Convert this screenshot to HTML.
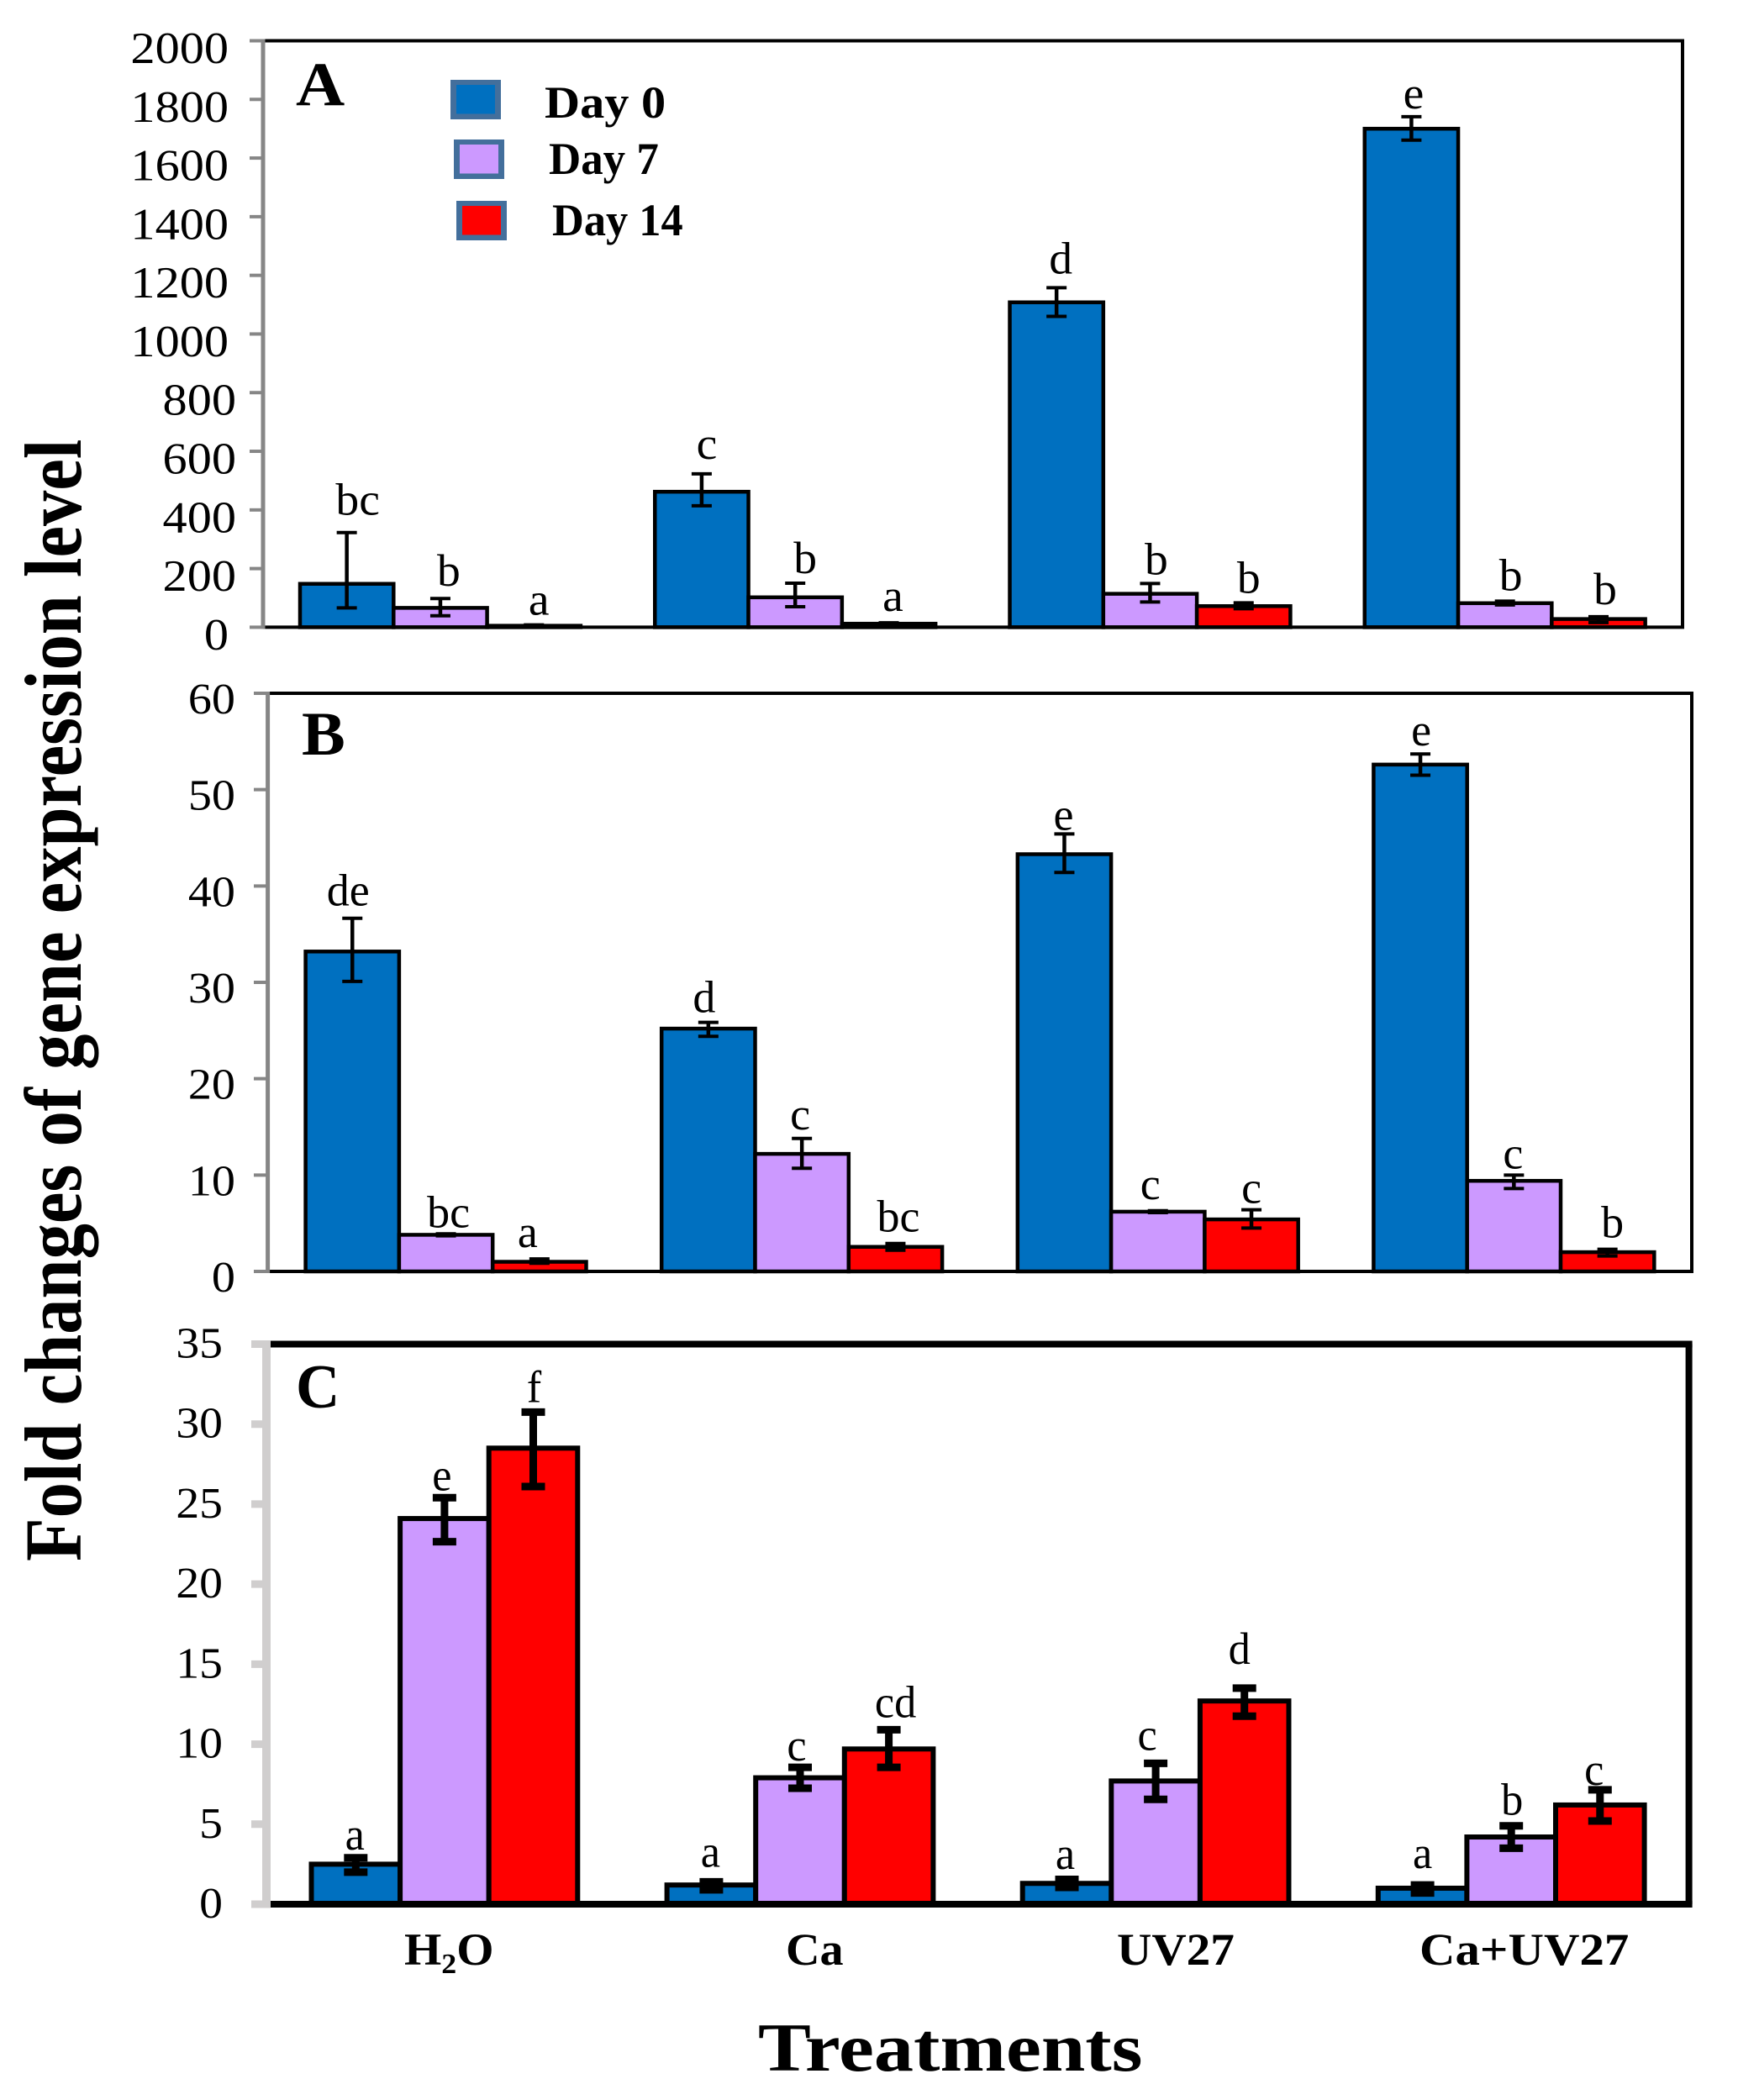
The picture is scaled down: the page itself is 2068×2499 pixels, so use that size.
<!DOCTYPE html>
<html lang="en">
<head>
<meta charset="utf-8">
<title>Fold changes of gene expression level</title>
<style>
html,body{margin:0;padding:0;background:#fff;}
svg{display:block;}
text{font-family:"Liberation Serif",serif;fill:#000;}
</style>
</head>
<body>
<svg id="chart" xmlns="http://www.w3.org/2000/svg" width="2068" height="2499" viewBox="0 0 2068 2499">
<rect x="0" y="0" width="2068" height="2499" fill="#fff"/>
</svg>
<script>
/* ---------- data ---------- */
const categories = ['H2O', 'Ca', 'UV27', 'Ca+UV27'];
const seriesNames = ['Day 0', 'Day 7', 'Day 14'];

const ticksA = [0, 200, 400, 600, 800, 1000, 1200, 1400, 1600, 1800, 2000];
const aDay0 = [148, 462, 1108, 1700];
const aDay7 = [66, 102, 114, 82];
const aDay14 = [5, 12, 72, 28];
const aDay0Hi = [323, 523, 1158, 1741];
const aDay0Lo = [66, 414, 1060, 1661];
const aDay7Hi = [98, 150, 149, 89];
const aDay7Lo = [39, 70, 86, 76];
const aDay14Hi = [8, 15, 83, 36];
const aDay14Lo = [3, 9, 63, 16];
const aLetters0 = ['bc', 'c', 'd', 'e'];
const aLetters7 = ['b', 'b', 'b', 'b'];
const aLetters14 = ['a', 'a', 'b', 'b'];

const ticksB = [0, 10, 20, 30, 40, 50, 60];
const bDay0 = [33.2, 25.2, 43.3, 52.6];
const bDay7 = [3.8, 12.2, 6.2, 9.4];
const bDay14 = [1.0, 2.55, 5.4, 2.0];
const bDay0Hi = [36.65, 25.85, 45.4, 53.7];
const bDay0Lo = [30.1, 24.4, 41.4, 51.5];
const bDay7Hi = [3.9, 13.8, 6.3, 10];
const bDay7Lo = [3.7, 10.7, 6.1, 8.6];
const bDay14Hi = [1.3, 2.9, 6.4, 2.3];
const bDay14Lo = [0.85, 2.2, 4.5, 1.6];
const bLetters0 = ['de', 'd', 'e', 'e'];
const bLetters7 = ['bc', 'c', 'c', 'c'];
const bLetters14 = ['a', 'bc', 'c', 'b'];

const ticksC = [0, 5, 10, 15, 20, 25, 30, 35];
const cDay0 = [2.5, 1.2, 1.3, 1.0];
const cDay7 = [24.1, 7.9, 7.7, 4.2];
const cDay14 = [28.5, 9.7, 12.7, 6.2];
const cDay0Hi = [2.9, 1.4, 1.55, 1.2];
const cDay0Lo = [2.0, 0.9, 1.05, 0.7];
const cDay7Hi = [25.4, 8.55, 8.8, 4.9];
const cDay7Lo = [22.65, 7.25, 6.55, 3.5];
const cDay14Hi = [30.75, 10.9, 13.5, 7.15];
const cDay14Lo = [26.1, 8.55, 11.75, 5.2];
const cLetters0 = ['a', 'a', 'a', 'a'];
const cLetters7 = ['e', 'c', 'c', 'b'];
const cLetters14 = ['f', 'cd', 'd', 'c'];

/* ---------- layout (not data): letter nudge relative to its error bar ---------- */
const panels = [
  {id:'a', letter:'A', letterX:352, letterY:125, letterSize:74, letterSx:1.09, max:2000, ticks:ticksA,
   left:313, right:2002, top:48.5, base:746.4, catW:422.25, off:44, barW:111.3,
   values:[aDay0,aDay7,aDay14], hi:[aDay0Hi,aDay7Hi,aDay14Hi], lo:[aDay0Lo,aDay7Lo,aDay14Lo],
   letters:[aLetters0,aLetters7,aLetters14],
   nudge:[[[13,21],[6,18],[5,17],[2.5,10]],[[10,15],[12,12],[7.5,11],[7,13]],[[6,12],[5,14],[6,12],[8,15]]],
   axisColor:'#868686', axisW:5, tickL:297, tickW:4, frameW:4, barSW:4.5, errW:4.5, capW:24, capH:4,
   tickRight:function(s){return s.length===3?281:272;}, tickDy:26.5, tickSize:53, tickSx:1.1, letSize:54, letSx:1.03},
  {id:'b', letter:'B', letterX:359, letterY:898, letterSize:74, letterSx:1.05, max:60, ticks:ticksB,
   left:318.6, right:2013, top:825, base:1513, catW:423.6, off:45, barW:111.3,
   values:[bDay0,bDay7,bDay14], hi:[bDay0Hi,bDay7Hi,bDay14Hi], lo:[bDay0Lo,bDay7Lo,bDay14Lo],
   letters:[bLetters0,bLetters7,bLetters14],
   nudge:[[[-5,15],[-5,12],[-1,5],[1,10]],[[3,8],[-2,11],[-9,14],[-1,8]],[[-14,14],[3.5,14],[0,8],[6,14]]],
   axisColor:'#868686', axisW:5, tickL:302, tickW:4, frameW:4, barSW:4.5, errW:4.5, capW:24, capH:4,
   tickRight:function(s){return 280;}, tickDy:24, tickSize:52, tickSx:1.08, letSize:54, letSx:1.0},
  {id:'c', letter:'C', letterX:352, letterY:1675, letterSize:74, letterSx:0.98, max:35, ticks:ticksC,
   left:317, right:2009.6, top:1599.5, base:2266, catW:423.1, off:53.5, barW:105.6,
   values:[cDay0,cDay7,cDay14], hi:[cDay0Hi,cDay7Hi,cDay14Hi], lo:[cDay0Lo,cDay7Lo,cDay14Lo],
   letters:[cLetters0,cLetters7,cLetters14],
   nudge:[[[-1,10],[-1,18],[-2,12.6],[0,20]],[[-3,9],[-4,8],[-10,16],[1,13]],[[1,12],[8,15],[-6,29],[-7,6]]],
   axisColor:'#d0cece', axisW:10, tickL:299, tickW:9, frameW:8, barSW:6, errW:9, capW:28, capH:9,
   tickRight:function(s){return 265;}, tickDy:16, tickSize:52, tickSx:1.07, letSize:54, letSx:0.97}
];
const fills = ['#0070c0', '#cc99ff', '#ff0000'];

const svg = document.getElementById('chart');
const NS = 'http://www.w3.org/2000/svg';

function shape(tag, attrs, name) {
  const el = document.createElementNS(NS, tag);
  for (const k in attrs) el.setAttribute(k, attrs[k]);
  
  
  svg.appendChild(el);
  return el;
}
function label(str, x, y, size, sx, anchor, bold, name) {
  const el = document.createElementNS(NS, 'text');
  el.setAttribute('transform', 'translate(' + x + ',' + y + ') scale(' + sx + ',1)');
  el.setAttribute('font-size', size);
  el.setAttribute('text-anchor', anchor);
  if (bold) el.setAttribute('font-weight', 'bold');
  el.textContent = str;
  
  
  svg.appendChild(el);
  return el;
}

panels.forEach(function (p) {
  const y = function (v) { return p.base - v / p.max * (p.base - p.top); };
  const barX = function (g, s) { return p.left + p.off + g * p.catW + s * p.barW; };

  /* bars, drawn group by group */
  categories.forEach(function (cat, g) {
    p.values.forEach(function (vals, s) {
      shape('rect', {x: barX(g, s), y: y(vals[g]), width: p.barW, height: p.base - y(vals[g]),
        fill: fills[s], stroke: '#000', 'stroke-width': p.barSW},
        'bar-' + p.id + '-' + cat.toLowerCase() + '-day' + [0, 7, 14][s]);
    });
  });

  /* frame */
  shape('line', {x1: p.left, x2: p.right + p.frameW / 2, y1: p.top, y2: p.top, stroke: '#000', 'stroke-width': p.frameW}, 'frame-top-' + p.id);
  shape('line', {x1: p.right, x2: p.right, y1: p.top, y2: p.base, stroke: '#000', 'stroke-width': p.frameW}, 'frame-right-' + p.id);
  shape('line', {x1: p.left, x2: p.right + p.frameW / 2, y1: p.base, y2: p.base, stroke: '#000', 'stroke-width': p.frameW}, 'x-axis-' + p.id);

  /* y axis and ticks */
  shape('line', {x1: p.left, x2: p.left, y1: p.top - p.tickW / 2, y2: p.base + p.tickW / 2, stroke: p.axisColor, 'stroke-width': p.axisW}, 'y-axis-' + p.id);
  p.ticks.forEach(function (t) {
    shape('line', {x1: p.tickL, x2: p.left, y1: y(t), y2: y(t), stroke: p.axisColor, 'stroke-width': p.tickW}, 'y-tick-' + p.id + '-' + t);
    const s = String(t);
    label(s, p.tickRight(s), y(t) + p.tickDy, p.tickSize, p.tickSx, 'end', false, 'y-tick-label-' + p.id + '-' + t);
  });

  /* error bars and significance letters */
  p.values.forEach(function (vals, s) {
    vals.forEach(function (v, g) {
      const cx = barX(g, s) + p.barW / 2;
      const hi = y(p.hi[s][g]);
      const lo = y(p.lo[s][g]);
      shape('line', {x1: cx, x2: cx, y1: hi, y2: lo, stroke: '#000', 'stroke-width': p.errW}, 'error-bar-' + p.id);
      shape('line', {x1: cx - p.capW / 2, x2: cx + p.capW / 2, y1: hi, y2: hi, stroke: '#000', 'stroke-width': p.capH}, 'error-cap-high-' + p.id);
      shape('line', {x1: cx - p.capW / 2, x2: cx + p.capW / 2, y1: lo, y2: lo, stroke: '#000', 'stroke-width': p.capH}, 'error-cap-low-' + p.id);
      const n = p.nudge[s][g];
      label(p.letters[s][g], cx + n[0], hi - n[1], p.letSize, p.letSx, 'middle', false, 'significance-letter-' + p.id);
    });
  });

  label(p.letter, p.letterX, p.letterY, p.letterSize, p.letterSx, 'start', true, 'panel-label-' + p.id);
});

/* legend */
const legendBoxes = [[536, 95], [540, 166], [543, 239]];
const legendText = [[648, 140, 1.08], [653, 207, 0.98], [657, 280, 0.97]];
seriesNames.forEach(function (nm, i) {
  const b = legendBoxes[i];
  shape('rect', {x: b[0], y: b[1], width: 60, height: 47, fill: '#436f9c'}, 'legend-swatch-border-' + i);
  shape('rect', {x: b[0] + 7, y: b[1] + 6, width: 46, height: 34.5, fill: fills[i]}, 'legend-swatch-' + i);
  const t = legendText[i];
  label(nm, t[0], t[1], 54, t[2], 'start', true, 'legend-entry-' + i);
});

/* category labels */
const catStyle = [[481, 1.055], [935, 1.04], [1329, 1.06], [1689, 1.09]];
categories.forEach(function (c, i) {
  const el = label('', catStyle[i][0], 2338, 54, catStyle[i][1], 'start', true, 'category-label-' + i);
  if (c === 'H2O') {
    const a = document.createElementNS(NS, 'tspan');
    a.textContent = 'H';
    el.appendChild(a);
    const sub = document.createElementNS(NS, 'tspan');
    sub.setAttribute('font-size', '34');
    sub.setAttribute('dy', '10');
    sub.textContent = '2';
    el.appendChild(sub);
    const o = document.createElementNS(NS, 'tspan');
    o.setAttribute('dy', '-10');
    o.textContent = 'O';
    el.appendChild(o);
  } else {
    el.textContent = c;
  }
});

/* axis titles */
label('Treatments', 902, 2464, 82, 1.15, 'start', true, 'x-axis-title');
const yt = document.createElementNS(NS, 'text');
yt.setAttribute('transform', 'translate(96,1858) rotate(-90) scale(1,1.14)');
yt.setAttribute('font-size', '84.6');
yt.setAttribute('font-weight', 'bold');
yt.textContent = 'Fold changes of gene expression level';


svg.appendChild(yt);
</script>
</body>
</html>
